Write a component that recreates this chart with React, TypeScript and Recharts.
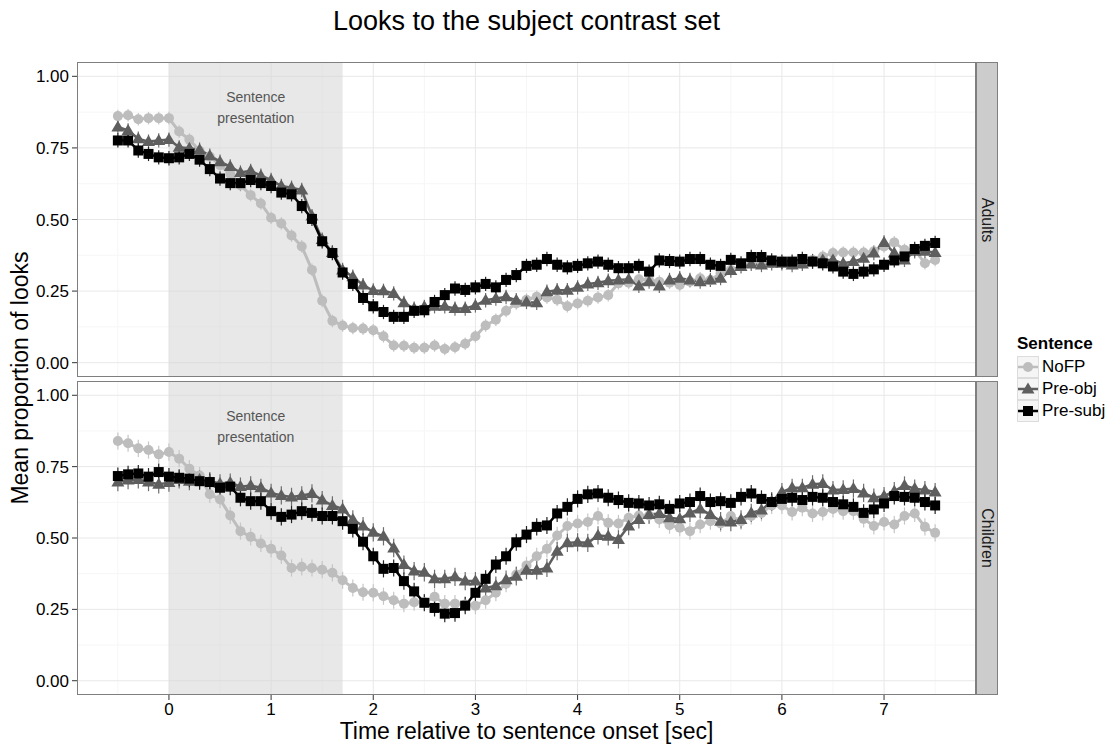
import React from 'react';
import { LineChart, Line, XAxis, YAxis, CartesianGrid, ReferenceArea, ErrorBar } from 'recharts';

// time bins, -0.5 .. 7.5 sec in 0.1 sec steps
const times = Array.from({ length: 81 }, (_, i) => Math.round((-0.5 + i * 0.1) * 10) / 10);

const adultsNoFP = [
  0.861, 0.864, 0.85, 0.854, 0.854, 0.854, 0.807, 0.779, 0.74, 0.72,
  0.69, 0.66, 0.62, 0.585, 0.556, 0.506, 0.486, 0.444, 0.406, 0.324,
  0.216, 0.146, 0.13, 0.121, 0.119, 0.113, 0.092, 0.06, 0.059, 0.052,
  0.052, 0.06, 0.048, 0.054, 0.066, 0.092, 0.13, 0.15, 0.181, 0.207,
  0.22, 0.23, 0.228, 0.22, 0.197, 0.207, 0.216, 0.228, 0.236, 0.277,
  0.279, 0.291, 0.289, 0.283, 0.279, 0.271, 0.283, 0.295, 0.289, 0.312,
  0.324, 0.336, 0.347, 0.353, 0.347, 0.353, 0.347, 0.353, 0.359, 0.371,
  0.383, 0.385, 0.385, 0.385, 0.389, 0.406, 0.42, 0.394, 0.394, 0.347,
  0.359,
];
const adultsPreObj = [
  0.823, 0.811, 0.782, 0.772, 0.776, 0.779, 0.752, 0.749, 0.744, 0.723,
  0.702, 0.685, 0.664, 0.67, 0.653, 0.638, 0.617, 0.611, 0.603, 0.512,
  0.43, 0.385, 0.324, 0.3, 0.271, 0.252, 0.251, 0.242, 0.209, 0.189,
  0.195, 0.197, 0.197, 0.189, 0.189, 0.2, 0.218, 0.224, 0.23, 0.218,
  0.212, 0.209, 0.248, 0.253, 0.253, 0.263, 0.275, 0.279, 0.286, 0.289,
  0.291, 0.268, 0.283, 0.268, 0.289, 0.295, 0.289, 0.283, 0.289, 0.295,
  0.322, 0.336, 0.345, 0.341, 0.347, 0.347, 0.341, 0.345, 0.353, 0.359,
  0.359, 0.347, 0.353, 0.365, 0.383, 0.42, 0.383, 0.359, 0.389, 0.389,
  0.385,
];
const adultsPreSubj = [
  0.776, 0.776, 0.741, 0.729, 0.717, 0.714, 0.717, 0.729, 0.709, 0.676,
  0.643, 0.627, 0.627, 0.638, 0.627, 0.617, 0.594, 0.588, 0.547, 0.502,
  0.424, 0.383, 0.315, 0.275, 0.226, 0.197, 0.177, 0.16, 0.16, 0.181,
  0.183, 0.212, 0.236, 0.259, 0.254, 0.263, 0.275, 0.263, 0.289, 0.306,
  0.338, 0.342, 0.362, 0.342, 0.333, 0.338, 0.347, 0.353, 0.342, 0.33,
  0.33, 0.338, 0.318, 0.357, 0.355, 0.353, 0.362, 0.362, 0.342, 0.338,
  0.359, 0.347, 0.369, 0.369, 0.357, 0.353, 0.353, 0.362, 0.353, 0.347,
  0.336, 0.318, 0.31, 0.318, 0.326, 0.342, 0.357, 0.371, 0.397, 0.408,
  0.418,
];

const childrenNoFP = [
  0.84, 0.832, 0.814, 0.808, 0.793, 0.801, 0.778, 0.743, 0.719, 0.653,
  0.635, 0.579, 0.524, 0.504, 0.481, 0.462, 0.439, 0.395, 0.399, 0.395,
  0.389, 0.378, 0.352, 0.325, 0.31, 0.308, 0.296, 0.282, 0.27, 0.275,
  0.275, 0.294, 0.27, 0.27, 0.267, 0.263, 0.282, 0.308, 0.34, 0.372,
  0.404, 0.436, 0.462, 0.509, 0.542, 0.551, 0.556, 0.577, 0.553, 0.551,
  0.571, 0.579, 0.579, 0.565, 0.545, 0.536, 0.524, 0.547, 0.559, 0.551,
  0.577, 0.559, 0.577, 0.588, 0.614, 0.614, 0.591, 0.606, 0.586, 0.591,
  0.602, 0.594, 0.594, 0.567, 0.542, 0.556, 0.547, 0.577, 0.586, 0.539,
  0.518,
];
const childrenPreObj = [
  0.696, 0.703, 0.705, 0.696, 0.688, 0.694, 0.705, 0.699, 0.705, 0.699,
  0.691, 0.694, 0.68, 0.684, 0.676, 0.658, 0.649, 0.644, 0.649, 0.656,
  0.633, 0.614, 0.602, 0.565, 0.542, 0.52, 0.506, 0.465, 0.407, 0.384,
  0.38, 0.357, 0.357, 0.364, 0.349, 0.349, 0.325, 0.333, 0.354, 0.366,
  0.387, 0.387, 0.395, 0.454, 0.483, 0.485, 0.483, 0.509, 0.506, 0.495,
  0.542, 0.565, 0.582, 0.586, 0.571, 0.567, 0.588, 0.602, 0.582, 0.559,
  0.556, 0.565, 0.588, 0.598, 0.629, 0.661, 0.676, 0.676, 0.688, 0.691,
  0.668, 0.67, 0.673, 0.658, 0.641, 0.647, 0.664, 0.684, 0.673, 0.668,
  0.661,
];
const childrenPreSubj = [
  0.717, 0.723, 0.726, 0.715, 0.731, 0.715, 0.711, 0.708, 0.699, 0.696,
  0.676, 0.68, 0.641, 0.629, 0.629, 0.594, 0.574, 0.582, 0.594, 0.588,
  0.577, 0.577, 0.559, 0.532, 0.487, 0.436, 0.392, 0.395, 0.349, 0.313,
  0.273, 0.255, 0.235, 0.237, 0.263, 0.308, 0.357, 0.407, 0.436, 0.485,
  0.512, 0.539, 0.544, 0.586, 0.609, 0.637, 0.653, 0.656, 0.641, 0.633,
  0.623, 0.621, 0.614, 0.618, 0.602, 0.621, 0.626, 0.647, 0.626, 0.629,
  0.623, 0.644, 0.656, 0.637, 0.626, 0.637, 0.641, 0.633, 0.644, 0.641,
  0.626, 0.618, 0.609, 0.588, 0.6, 0.621, 0.647, 0.644, 0.641, 0.626,
  0.614,
];

// approximate standard errors, NoFP / Pre-obj / Pre-subj
const adultsErr = [0.022, 0.025, 0.025];
const childrenErr = [0.03, 0.032, 0.03];

const xTicks = [0, 1, 2, 3, 4, 5, 6, 7];
const xMinor = [-0.5, 0.5, 1.5, 2.5, 3.5, 4.5, 5.5, 6.5, 7.5];
const yTicks = [0, 0.25, 0.5, 0.75, 1];
const yMinor = [0.125, 0.375, 0.625, 0.875];

const SERIES = [
  { key: 'nofp', name: 'NoFP', color: '#bdbdbd', errColor: '#c6c6c6', shape: 'circle', width: 3 },
  { key: 'preobj', name: 'Pre-obj', color: '#5e5e5e', errColor: '#6e6e6e', shape: 'triangle', width: 2.5 },
  { key: 'presubj', name: 'Pre-subj', color: '#000000', errColor: '#222222', shape: 'square', width: 2.5 },
];

const FONT = '"Liberation Sans", Arial, sans-serif';

function buildRows(a: number[], b: number[], c: number[], err: number[]) {
  return times.map((t, i) => ({
    t,
    nofp: a[i],
    preobj: b[i],
    presubj: c[i],
    nofpErr: err[0],
    preobjErr: err[1],
    presubjErr: err[2],
  }));
}

const adultsData = buildRows(adultsNoFP, adultsPreObj, adultsPreSubj, adultsErr);
const childrenData = buildRows(childrenNoFP, childrenPreObj, childrenPreSubj, childrenErr);

function Marker({ shape, cx, cy, color }: { shape: string; cx: number; cy: number; color: string }) {
  if (cx == null || cy == null) return null;
  if (shape === 'circle') return <circle cx={cx} cy={cy} r={5} fill={color} />;
  if (shape === 'triangle') {
    return <polygon points={`${cx},${cy - 6.5} ${cx - 6.5},${cy + 4.5} ${cx + 6.5},${cy + 4.5}`} fill={color} />;
  }
  return <rect x={cx - 5} y={cy - 5} width={10} height={10} fill={color} />;
}

function SentenceLabel(props: any) {
  const { viewBox } = props;
  if (!viewBox) return null;
  const x = viewBox.x + viewBox.width / 2;
  return (
    <text x={x} y={viewBox.y + 40} textAnchor="middle" fontSize={14} fill="#555" fontFamily={FONT}>
      <tspan x={x}>Sentence</tspan>
      <tspan x={x} dy={21}>presentation</tspan>
    </text>
  );
}

function Panel({ data, top, height, marginTop, marginBottom, showX }: any) {
  return (
    <div style={{ position: 'absolute', left: 0, top }}>
      <LineChart
        width={1000}
        height={height}
        data={data}
        margin={{ top: marginTop, right: 24, bottom: marginBottom, left: 0 }}
      >
        <CartesianGrid stroke="#f6f6f6" strokeWidth={1} horizontalValues={yMinor} verticalValues={xMinor} />
        <CartesianGrid stroke="#e8e8e8" strokeWidth={1} horizontalValues={yTicks} verticalValues={xTicks} />
        <ReferenceArea x1={0} x2={1.7} fill="#d6d6d6" fillOpacity={0.55} stroke="none" label={<SentenceLabel />} />
        <XAxis
          dataKey="t"
          type="number"
          domain={[-0.9, 7.9]}
          ticks={xTicks}
          hide={!showX}
          height={30}
          tickSize={5}
          tickMargin={3}
          axisLine={false}
          tickLine={{ stroke: '#333' }}
          tick={{ fontSize: 17, fill: '#000', fontFamily: FONT }}
          allowDataOverflow
        />
        <YAxis
          type="number"
          domain={[-0.05, 1.05]}
          ticks={yTicks}
          width={77}
          tickSize={5}
          tickMargin={3}
          axisLine={false}
          tickLine={{ stroke: '#333' }}
          tick={{ fontSize: 17, fill: '#000', fontFamily: FONT }}
          tickFormatter={(v: number) => v.toFixed(2)}
          allowDataOverflow
        />
        {SERIES.map((s) => (
          <Line
            key={s.key}
            type="linear"
            dataKey={s.key}
            name={s.name}
            stroke={s.color}
            strokeWidth={s.width}
            isAnimationActive={false}
            activeDot={false}
            dot={(p: any) => <Marker key={`${s.key}-${p.index}`} shape={s.shape} cx={p.cx} cy={p.cy} color={s.color} />}
          >
            <ErrorBar dataKey={`${s.key}Err`} direction="y" width={0} stroke={s.errColor} strokeWidth={1.2} />
          </Line>
        ))}
      </LineChart>
    </div>
  );
}

function Strip({ top, height, text }: { top: number; height: number; text: string }) {
  return (
    <div
      style={{
        position: 'absolute', left: 976, top, width: 22, height, boxSizing: 'border-box',
        background: '#cccccc', border: '1px solid #7f7f7f',
        display: 'flex', alignItems: 'center', justifyContent: 'center',
      }}
    >
      <span style={{ transform: 'rotate(90deg)', fontSize: 16, fontFamily: FONT, color: '#1a1a1a', whiteSpace: 'nowrap' }}>{text}</span>
    </div>
  );
}

function LegendKey({ shape, color }: { shape: string; color: string }) {
  return (
    <svg width={22} height={22} style={{ display: 'block' }}>
      <rect x={0.5} y={0.5} width={21} height={21} fill="#f5f5f5" stroke="#dcdcdc" />
      <line x1={1} y1={11} x2={21} y2={11} stroke={color} strokeWidth={2.5} />
      <Marker shape={shape} cx={11} cy={11} color={color} />
    </svg>
  );
}

export default function App() {
  return (
    <div style={{ position: 'absolute', left: 0, top: 0, width: 1112, height: 746, background: '#fff', fontFamily: FONT, overflow: 'hidden' }}>
      <div style={{ position: 'absolute', left: 77, width: 899, top: 6, textAlign: 'center', fontSize: 27, color: '#000' }}>
        Looks to the subject contrast set
      </div>

      <Panel data={adultsData} top={0} height={380} marginTop={62} marginBottom={3} showX={false} />
      <Panel data={childrenData} top={0} height={746} marginTop={381} marginBottom={21} showX />

      <div style={{ position: 'absolute', left: 77, top: 62, width: 899, height: 315, boxSizing: 'border-box', border: '1px solid #7f7f7f', pointerEvents: 'none' }} />
      <div style={{ position: 'absolute', left: 77, top: 381, width: 899, height: 314, boxSizing: 'border-box', border: '1px solid #7f7f7f', pointerEvents: 'none' }} />
      <Strip top={62} height={315} text="Adults" />
      <Strip top={381} height={314} text="Children" />

      <div style={{ position: 'absolute', left: 77, width: 899, top: 718, textAlign: 'center', fontSize: 23, color: '#000' }}>
        Time relative to sentence onset [sec]
      </div>
      <div
        style={{
          position: 'absolute', left: 20, top: 378, transform: 'translate(-50%, -50%) rotate(-90deg)',
          fontSize: 23, color: '#000', whiteSpace: 'nowrap',
        }}
      >
        Mean proportion of looks
      </div>

      <div style={{ position: 'absolute', left: 1017, top: 334, color: '#000' }}>
        <div style={{ fontSize: 17, fontWeight: 'bold', marginBottom: 2 }}>Sentence</div>
        {SERIES.map((s) => (
          <div key={s.key} style={{ display: 'flex', alignItems: 'center', height: 22 }}>
            <LegendKey shape={s.shape} color={s.color} />
            <span style={{ fontSize: 17, marginLeft: 3 }}>{s.name}</span>
          </div>
        ))}
      </div>
    </div>
  );
}
